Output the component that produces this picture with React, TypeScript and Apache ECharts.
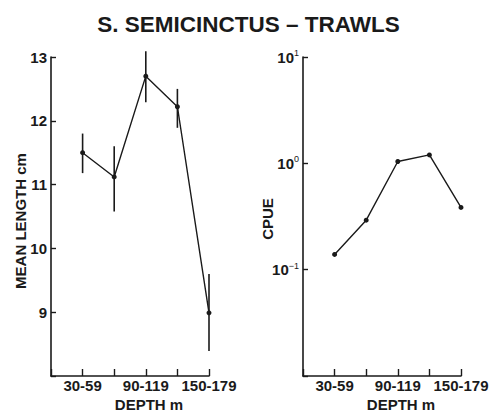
import React, { useEffect, useRef } from "react";
import * as echarts from "echarts";

// Depth classes (x positions 1..5)
const depthLabels = ["30-59", "60-89", "90-119", "120-149", "150-179"];
const shownDepthLabels = ["30-59", "90-119", "150-179"];
const depthIndex = [1, 2, 3, 4, 5];

// Left panel: mean length (cm) with error bars
const meanLength = [11.5, 11.12, 12.7, 12.22, 8.99];
const lengthLow = [11.18, 10.58, 12.29, 11.89, 8.39];
const lengthHigh = [11.8, 11.6, 13.09, 12.5, 9.6];

// Right panel: CPUE (log scale)
const cpue = [0.139, 0.292, 1.04, 1.2, 0.385];
const cpueTickLabels: Record<string, string> = {
  "10": "{b|10}{s|1}",
  "1": "{b|10}{s|0}",
  "0.1": "{b|10}{s|−1}",
};

const FONT = "'Liberation Sans', Arial, Helvetica, sans-serif";
const INK = "#1a1a1a";

export default function App() {
  const ref = useRef<HTMLDivElement>(null);
  useEffect(() => {
    if (!ref.current) return;
    const chart = echarts.init(ref.current, undefined, { renderer: "svg" });
    const xAxisCommon = {
      type: "value",
      min: 0,
      max: 5,
      interval: 1,
      axisLine: { show: true, lineStyle: { color: INK, width: 1.6 } },
      axisTick: { show: true, inside: true, length: 7, lineStyle: { color: INK, width: 1.4 } },
      splitLine: { show: false },
      axisLabel: {
        margin: 2,
        color: INK,
        fontFamily: FONT,
        fontWeight: "bold",
        fontSize: 15,
        lineHeight: 15,
        showMinLabel: true,
        showMaxLabel: true,
        formatter: (v: number) => {
          const l = depthLabels[Math.round(v) - 1];
          return l && shownDepthLabels.includes(l) ? l : "";
        },
      },
    };
    const errData = depthIndex.map((x, i) => [x, lengthLow[i], lengthHigh[i]]);
    const axisName = (text: string, x: number, y: number, rotated: boolean) => ({
      type: "text",
      x,
      y,
      rotation: rotated ? Math.PI / 2 : 0,
      style: {
        text,
        fontFamily: FONT,
        fontWeight: "bold",
        fontSize: 15,
        fill: INK,
        textAlign: "center",
        textVerticalAlign: "middle",
      },
    });
    chart.setOption({
      animation: false,
      title: {
        text: "S. SEMICINCTUS – TRAWLS",
        left: "center",
        top: 8,
        textStyle: { fontFamily: FONT, fontWeight: "bold", fontSize: 22.5, color: INK },
      },
      grid: [
        { left: 51, top: 57, width: 158, height: 319 },
        { left: 303, top: 57, width: 158, height: 319 },
      ],
      xAxis: [
        { ...xAxisCommon, gridIndex: 0 },
        { ...xAxisCommon, gridIndex: 1 },
      ],
      yAxis: [
        {
          gridIndex: 0,
          type: "value",
          min: 8,
          max: 13,
          interval: 1,
          axisLine: { show: true, lineStyle: { color: INK, width: 1.6 } },
          axisTick: { show: true, inside: true, length: 5, lineStyle: { color: INK, width: 1.4 } },
          splitLine: { show: false },
          axisLabel: {
            margin: 4,
            color: INK,
            fontFamily: FONT,
            fontWeight: "bold",
            fontSize: 15,
            formatter: (v: number) => (v === 8 ? "" : String(v)),
          },
        },
        {
          gridIndex: 1,
          type: "log",
          logBase: 10,
          min: 0.01,
          max: 10,
          axisLine: { show: true, lineStyle: { color: INK, width: 1.6 } },
          axisTick: { show: true, inside: true, length: 5, lineStyle: { color: INK, width: 1.4 } },
          splitLine: { show: false },
          axisLabel: {
            margin: 4,
            color: INK,
            formatter: (v: number) => {
              const key = String(Number(v.toPrecision(3)));
              return cpueTickLabels[key] || "";
            },
            rich: {
              b: { fontFamily: FONT, fontWeight: "bold", fontSize: 15, color: INK },
              s: { fontFamily: FONT, fontSize: 9, color: INK, verticalAlign: "top", padding: [0, 0, 8, 0] },
            },
          },
        },
      ],
      graphic: [
        axisName("MEAN LENGTH cm", 20, 221, true),
        axisName("CPUE", 267, 219, true),
        axisName("DEPTH m", 149, 404, false),
        axisName("DEPTH m", 401, 404, false),
      ],
      series: [
        {
          type: "custom",
          xAxisIndex: 0,
          yAxisIndex: 0,
          data: errData,
          renderItem: (params: any, api: any) => {
            const x = api.value(0);
            const lo = api.coord([x, api.value(1)]);
            const hi = api.coord([x, api.value(2)]);
            return {
              type: "line",
              shape: { x1: lo[0], y1: lo[1], x2: hi[0], y2: hi[1] },
              style: { stroke: INK, lineWidth: 1.6 },
            };
          },
          z: 3,
        },
        {
          type: "line",
          xAxisIndex: 0,
          yAxisIndex: 0,
          data: depthIndex.map((x, i) => [x, meanLength[i]]),
          symbol: "circle",
          symbolSize: 5,
          lineStyle: { color: INK, width: 1.4 },
          itemStyle: { color: INK },
          z: 4,
        },
        {
          type: "line",
          xAxisIndex: 1,
          yAxisIndex: 1,
          data: depthIndex.map((x, i) => [x, cpue[i]]),
          symbol: "circle",
          symbolSize: 5,
          lineStyle: { color: INK, width: 1.4 },
          itemStyle: { color: INK },
          z: 4,
        },
      ],
    });
    return () => chart.dispose();
  }, []);
  return (
    <div
      ref={ref}
      style={{ position: "absolute", left: 0, top: 0, width: 497, height: 413, background: "#fff" }}
    />
  );
}
